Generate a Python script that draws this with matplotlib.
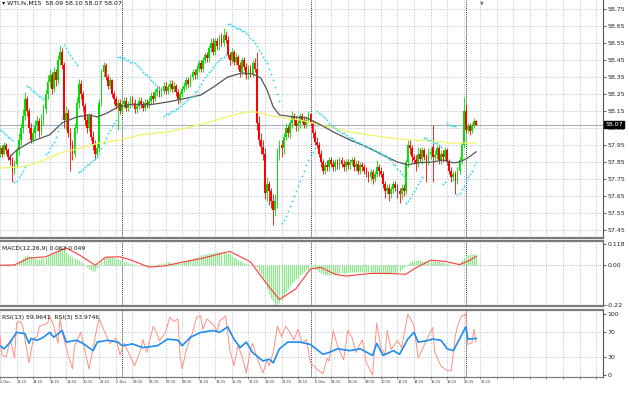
"""WTI.fs M15 chart in the MetaTrader look: candles + MA + SAR, MACD and RSI sub-windows."""
import numpy as np
import matplotlib
matplotlib.use("Agg")
import matplotlib.pyplot as plt

# ----------------------------------------------------------------- candles (one row = 8 bars = 2h)
open_ = [
    57.90, 57.93, 57.90, 57.95, 57.92, 57.88, 57.86, 57.80,
    57.84, 57.92, 57.98, 58.05, 58.12, 58.22, 58.15, 58.05,
    57.98, 58.02, 58.06, 58.09, 58.03, 58.10, 58.16, 58.25,
    58.32, 58.36, 58.28, 58.38, 58.33, 58.45, 58.50, 58.42,
    58.10, 58.14, 58.02, 57.95, 57.90, 58.05, 58.20, 58.31,
    58.25, 58.18, 58.10, 58.05, 58.12, 58.00, 57.95, 57.90,
    57.93, 58.20, 58.38, 58.42, 58.35, 58.30, 58.33, 58.25,
    58.22, 58.18, 58.20, 58.15, 58.19, 58.21, 58.17, 58.19,
    58.22, 58.20, 58.16, 58.18, 58.21, 58.19, 58.17, 58.20,
    58.19, 58.21, 58.24, 58.22, 58.26, 58.28, 58.25, 58.27,
    58.30, 58.27, 58.29, 58.31, 58.28, 58.30, 58.26, 58.22,
    58.25, 58.28, 58.30, 58.33, 58.31, 58.35, 58.38, 58.36,
    58.40, 58.43, 58.40, 58.45, 58.48, 58.46, 58.52, 58.55,
    58.50, 58.56, 58.53, 58.58, 58.55, 58.60, 58.57, 58.48,
    58.45, 58.50, 58.44, 58.47, 58.42, 58.38, 58.45, 58.41,
    58.36, 58.40, 58.37, 58.43, 58.40, 58.08, 57.98, 57.94,
    57.90, 57.67, 57.72, 57.68, 57.62, 57.57, 57.62, 57.90,
    57.95, 57.93, 58.00, 58.05, 58.02, 58.08, 58.12, 58.10,
    58.06, 58.08, 58.12, 58.10, 58.07, 58.10, 58.13, 58.08,
    58.02, 57.97, 57.95, 57.90, 57.85, 57.80, 57.83, 57.82,
    57.86, 57.84, 57.82, 57.85, 57.83, 57.86, 57.84, 57.82,
    57.85, 57.83, 57.85, 57.86, 57.82, 57.84, 57.80, 57.83,
    57.82, 57.80, 57.78, 57.76, 57.79, 57.75, 57.78, 57.82,
    57.80, 57.78, 57.72, 57.68, 57.70, 57.66, 57.69, 57.72,
    57.70, 57.68, 57.66, 57.70, 57.68, 57.85, 57.95, 57.93,
    57.88, 57.86, 57.84, 57.90, 57.87, 57.92, 57.88, 57.85,
    57.90, 57.94, 57.88, 57.89, 57.93, 57.86, 57.90, 57.88,
    57.92, 57.85, 57.80, 57.76, 57.78, 57.74, 57.80, 57.86,
    57.95, 58.15, 58.04, 58.06, 58.03, 58.06, 58.09,
]
high = [
    57.95, 57.95, 57.97, 57.96, 57.93, 57.90, 57.88, 57.86,
    57.94, 58.02, 58.08, 58.16, 58.26, 58.24, 58.17, 58.08,
    58.05, 58.10, 58.12, 58.11, 58.13, 58.19, 58.28, 58.36,
    58.40, 58.38, 58.41, 58.40, 58.48, 58.54, 58.52, 58.44,
    58.18, 58.16, 58.05, 57.98, 58.08, 58.23, 58.34, 58.33,
    58.27, 58.20, 58.13, 58.14, 58.14, 58.03, 57.98, 57.96,
    58.22, 58.40, 58.44, 58.43, 58.37, 58.35, 58.34, 58.27,
    58.24, 58.22, 58.22, 58.21, 58.23, 58.23, 58.21, 58.24,
    58.24, 58.22, 58.20, 58.23, 58.23, 58.21, 58.22, 58.22,
    58.23, 58.26, 58.26, 58.28, 58.30, 58.30, 58.29, 58.32,
    58.32, 58.31, 58.33, 58.33, 58.32, 58.31, 58.28, 58.27,
    58.30, 58.32, 58.35, 58.35, 58.37, 58.40, 58.40, 58.42,
    58.45, 58.45, 58.47, 58.50, 58.50, 58.54, 58.58, 58.58,
    58.58, 58.58, 58.60, 58.61, 58.64, 58.62, 58.59, 58.50,
    58.52, 58.51, 58.49, 58.48, 58.44, 58.47, 58.47, 58.43,
    58.42, 58.42, 58.45, 58.46, 58.50, 58.12, 58.02, 57.98,
    57.93, 57.76, 57.74, 57.70, 57.66, 57.66, 57.93, 57.98,
    57.98, 58.02, 58.08, 58.07, 58.10, 58.15, 58.14, 58.12,
    58.11, 58.14, 58.14, 58.12, 58.12, 58.15, 58.14, 58.10,
    58.04, 58.00, 57.97, 57.92, 57.87, 57.85, 57.86, 57.88,
    57.88, 57.86, 57.87, 57.87, 57.88, 57.88, 57.86, 57.87,
    57.87, 57.87, 57.88, 57.88, 57.86, 57.86, 57.85, 57.85,
    57.84, 57.82, 57.80, 57.81, 57.81, 57.80, 57.86, 57.84,
    57.82, 57.80, 57.74, 57.72, 57.72, 57.71, 57.74, 57.74,
    57.72, 57.70, 57.72, 57.72, 57.87, 57.98, 57.98, 57.95,
    57.90, 57.89, 57.94, 57.93, 57.94, 57.93, 57.90, 57.93,
    57.94, 58.07, 57.92, 57.95, 57.95, 57.92, 57.92, 57.94,
    57.93, 57.87, 57.82, 57.80, 57.80, 57.82, 57.88, 57.97,
    58.23, 58.19, 58.08, 58.08, 58.08, 58.11, 58.10,
]
low = [
    57.88, 57.88, 57.89, 57.90, 57.86, 57.83, 57.73, 57.78,
    57.82, 57.89, 57.95, 58.02, 58.10, 58.12, 58.02, 57.96,
    57.96, 57.99, 58.03, 58.00, 58.01, 58.07, 58.14, 58.22,
    58.29, 58.25, 58.26, 58.30, 58.31, 58.42, 58.40, 58.05,
    58.04, 58.00, 57.80, 57.86, 57.88, 58.02, 58.17, 58.22,
    58.15, 58.07, 58.02, 58.03, 57.98, 57.92, 57.87, 57.88,
    57.91, 58.18, 58.35, 58.33, 58.28, 58.28, 58.23, 58.19,
    58.16, 58.04, 58.13, 58.14, 58.17, 58.15, 58.15, 58.17,
    58.18, 58.14, 58.14, 58.16, 58.17, 58.15, 58.15, 58.17,
    58.17, 58.19, 58.20, 58.21, 58.24, 58.23, 58.23, 58.25,
    58.25, 58.25, 58.27, 58.26, 58.26, 58.24, 58.19, 58.20,
    58.23, 58.26, 58.28, 58.29, 58.29, 58.33, 58.34, 58.34,
    58.38, 58.38, 58.38, 58.43, 58.44, 58.44, 58.50, 58.48,
    58.48, 58.51, 58.51, 58.53, 58.53, 58.55, 58.46, 58.42,
    58.43, 58.42, 58.42, 58.40, 58.35, 58.36, 58.39, 58.34,
    58.34, 58.35, 58.35, 58.38, 58.04, 57.95, 57.90, 57.86,
    57.63, 57.62, 57.60, 57.58, 57.48, 57.53, 57.58, 57.86,
    57.88, 57.90, 57.98, 58.00, 57.99, 58.05, 58.07, 58.03,
    58.03, 58.05, 58.08, 58.05, 58.05, 58.08, 58.06, 57.99,
    57.95, 57.93, 57.88, 57.82, 57.78, 57.78, 57.80, 57.80,
    57.82, 57.80, 57.80, 57.81, 57.81, 57.82, 57.80, 57.80,
    57.81, 57.81, 57.83, 57.80, 57.80, 57.78, 57.78, 57.80,
    57.78, 57.76, 57.73, 57.74, 57.72, 57.73, 57.76, 57.77,
    57.76, 57.70, 57.64, 57.66, 57.62, 57.64, 57.67, 57.68,
    57.64, 57.61, 57.63, 57.65, 57.66, 57.82, 57.90, 57.85,
    57.84, 57.80, 57.82, 57.85, 57.84, 57.86, 57.73, 57.83,
    57.87, 57.73, 57.86, 57.87, 57.84, 57.84, 57.85, 57.86,
    57.83, 57.78, 57.73, 57.74, 57.66, 57.72, 57.78, 57.84,
    57.93, 58.02, 58.02, 58.01, 58.02, 58.05, 58.07,
]
close = [
    57.93, 57.90, 57.95, 57.92, 57.88, 57.86, 57.80, 57.84,
    57.92, 57.98, 58.05, 58.12, 58.22, 58.15, 58.05, 57.98,
    58.02, 58.06, 58.09, 58.03, 58.10, 58.16, 58.25, 58.32,
    58.36, 58.28, 58.38, 58.33, 58.45, 58.50, 58.42, 58.10,
    58.14, 58.02, 57.95, 57.90, 58.05, 58.20, 58.31, 58.25,
    58.18, 58.10, 58.05, 58.12, 58.00, 57.95, 57.90, 57.93,
    58.20, 58.38, 58.42, 58.35, 58.30, 58.33, 58.25, 58.22,
    58.18, 58.20, 58.15, 58.19, 58.21, 58.17, 58.19, 58.22,
    58.20, 58.16, 58.18, 58.21, 58.19, 58.17, 58.20, 58.19,
    58.21, 58.24, 58.22, 58.26, 58.28, 58.25, 58.27, 58.30,
    58.27, 58.29, 58.31, 58.28, 58.30, 58.26, 58.22, 58.25,
    58.28, 58.30, 58.33, 58.31, 58.35, 58.38, 58.36, 58.40,
    58.43, 58.40, 58.45, 58.48, 58.46, 58.52, 58.55, 58.50,
    58.56, 58.53, 58.58, 58.55, 58.60, 58.57, 58.48, 58.45,
    58.50, 58.44, 58.47, 58.42, 58.38, 58.45, 58.41, 58.36,
    58.40, 58.37, 58.43, 58.40, 58.08, 57.98, 57.94, 57.90,
    57.67, 57.72, 57.68, 57.62, 57.57, 57.62, 57.90, 57.95,
    57.93, 58.00, 58.05, 58.02, 58.08, 58.12, 58.10, 58.06,
    58.08, 58.12, 58.10, 58.07, 58.10, 58.13, 58.08, 58.02,
    57.97, 57.95, 57.90, 57.85, 57.80, 57.83, 57.82, 57.86,
    57.84, 57.82, 57.85, 57.83, 57.86, 57.84, 57.82, 57.85,
    57.83, 57.85, 57.86, 57.82, 57.84, 57.80, 57.83, 57.82,
    57.80, 57.78, 57.76, 57.79, 57.75, 57.78, 57.82, 57.80,
    57.78, 57.72, 57.68, 57.70, 57.66, 57.69, 57.72, 57.70,
    57.68, 57.66, 57.70, 57.68, 57.85, 57.95, 57.93, 57.88,
    57.86, 57.84, 57.90, 57.87, 57.92, 57.88, 57.85, 57.90,
    57.91, 57.88, 57.89, 57.93, 57.86, 57.90, 57.88, 57.92,
    57.85, 57.80, 57.76, 57.78, 57.74, 57.80, 57.86, 57.95,
    58.15, 58.04, 58.06, 58.03, 58.06, 58.09, 58.07,
]

# parabolic SAR, one dot per bar
sar = [
    58.04, 58.03, 58.02, 58.01, 58.00, 57.99, 57.98,
    57.73, 57.74, 57.76, 57.78, 57.80, 57.82,
    58.30, 58.29, 58.28, 58.27, 58.26, 58.25, 58.24, 58.23, 58.22,
    57.90, 57.91, 57.93, 57.95, 57.97, 58.00, 58.03, 58.07, 58.11,
    58.54, 58.52, 58.50, 58.48, 58.46, 58.44, 58.42,
    57.79, 57.80, 57.81, 57.82, 57.83, 57.84, 57.85, 57.86, 57.87, 57.88,
    57.90, 57.93, 57.96, 57.99, 58.02, 58.04, 58.06, 58.08, 58.10,
    58.47, 58.47, 58.46, 58.46, 58.45, 58.45, 58.44, 58.44, 58.43, 58.42, 58.41,
    58.40, 58.38, 58.37, 58.36, 58.35, 58.33, 58.32, 58.31, 58.30, 58.28, 58.27,
    58.12, 58.13, 58.13, 58.14, 58.15, 58.15, 58.16, 58.17, 58.18, 58.19, 58.20,
    58.21, 58.22, 58.23, 58.24, 58.26, 58.27, 58.29, 58.31, 58.33, 58.35, 58.36,
    58.38, 58.39, 58.41, 58.42, 58.44, 58.45, 58.46, 58.47, 58.48,
    58.66, 58.66, 58.65, 58.65, 58.64, 58.64, 58.63, 58.62, 58.62, 58.61, 58.60,
    58.58, 58.57, 58.55, 58.53, 58.51, 58.49, 58.47, 58.45, 58.43, 58.40, 58.37,
    58.33, 58.29, 58.25, 58.21,
    57.49, 57.51, 57.53, 57.56, 57.59, 57.62, 57.65, 57.68, 57.71, 57.74, 57.77,
    57.80, 57.83, 57.86, 57.89, 57.91, 57.93,
    58.15, 58.14, 58.13, 58.12, 58.11, 58.10, 58.08, 58.07, 58.06, 58.05, 58.04,
    58.03, 58.02, 58.02, 58.01, 58.00, 57.99, 57.99, 57.98, 57.97, 57.97, 57.96,
    57.95, 57.95, 57.94, 57.94, 57.93, 57.92, 57.92, 57.91, 57.91, 57.90, 57.89,
    57.89, 57.88, 57.87, 57.86, 57.84, 57.83, 57.81, 57.80, 57.78, 57.77,
    57.61, 57.62, 57.64, 57.66, 57.68, 57.70, 57.72, 57.74, 57.76,
    57.99, 57.99, 57.98, 57.98, 57.97, 57.96, 57.96, 57.95, 57.94,
    57.72, 57.73,
    58.08, 58.07, 58.07, 58.06, 58.06,
    57.66, 57.67, 57.69, 57.71, 57.74, 57.76, 57.78, 57.80, 57.83, 57.85,
]

# moving averages (bar index, price)
ma_gray_bar = [4, 8, 15, 24, 30, 37, 43, 47, 52, 57, 64, 72, 81, 88, 97, 103, 110, 117, 122,
               126, 129, 132, 135, 142, 148, 155, 161, 169, 177, 185, 192, 197, 201, 209,
               214, 219, 222, 226, 230]
ma_gray = [57.87, 57.92, 57.97, 58.01, 58.08, 58.115, 58.127, 58.115, 58.14, 58.174, 58.19,
           58.186, 58.203, 58.22, 58.244, 58.29, 58.35, 58.374, 58.368, 58.344, 58.274,
           58.174, 58.127, 58.115, 58.11, 58.068, 58.027, 57.98, 57.94, 57.89, 57.85,
           57.833, 57.845, 57.85, 57.862, 57.845, 57.85, 57.874, 57.91]
ma_yellow_bar = [0, 10, 19, 29, 39, 48, 58, 68, 81, 90, 100, 106, 113, 119, 124, 129, 137,
                 145, 155, 169, 185, 198, 209, 217, 230]
ma_yellow = [57.815, 57.82, 57.85, 57.903, 57.933, 57.962, 57.98, 58.01, 58.027, 58.05,
             58.08, 58.103, 58.127, 58.144, 58.144, 58.127, 58.109, 58.097, 58.068, 58.027,
             57.997, 57.98, 57.974, 57.962, 57.962]

# MACD main (histogram), one value per bar
macd_hist = [
    0.003, 0.002, 0.0, -0.002, -0.003, -0.002, 0.0, 0.005, 0.012,
    0.02, 0.03, 0.042, 0.052, 0.056, 0.05,
    0.045, 0.04, 0.038, 0.036, 0.037, 0.04, 0.042, 0.045, 0.05, 0.055, 0.06, 0.068,
    0.078, 0.088, 0.095,
    0.096, 0.088, 0.075, 0.06, 0.05, 0.045, 0.04, 0.035, 0.028, 0.02, 0.01,
    0.0, -0.01, -0.02, -0.028, -0.034, -0.03, -0.015, 0.005,
    0.025, 0.04, 0.048, 0.05, 0.048, 0.045, 0.042, 0.038, 0.033, 0.028,
    0.024, 0.02, 0.016, 0.013, 0.01, 0.008, 0.005, 0.003, 0.001, -0.001,
    -0.003, -0.004, -0.005, -0.004, -0.002, 0.0, 0.003, 0.006, 0.009, 0.012,
    0.014, 0.016, 0.017, 0.016, 0.015, 0.014, 0.012, 0.011, 0.012, 0.015,
    0.02, 0.025, 0.03, 0.034, 0.038, 0.043, 0.048, 0.052, 0.055, 0.058, 0.061, 0.063,
    0.066, 0.068, 0.07, 0.072, 0.073, 0.072, 0.073, 0.072, 0.07, 0.066,
    0.06, 0.052, 0.045, 0.038, 0.032, 0.026, 0.02, 0.015, 0.01, 0.006, 0.003,
    0.0, -0.003, -0.01, -0.03, -0.05, -0.07,
    -0.1, -0.13, -0.16, -0.18, -0.2, -0.215, -0.22, -0.21, -0.19,
    -0.17, -0.15, -0.13, -0.115, -0.1, -0.088, -0.076, -0.065, -0.055, -0.045,
    -0.036, -0.028, -0.02, -0.015,
    -0.015, -0.02, -0.028, -0.036, -0.044, -0.05, -0.055, -0.056, -0.055, -0.052,
    -0.05, -0.048, -0.046, -0.044, -0.043, -0.042, -0.04, -0.039, -0.038, -0.037,
    -0.036, -0.036, -0.035, -0.035, -0.036, -0.037, -0.036, -0.035, -0.036, -0.038,
    -0.04, -0.042, -0.043, -0.044, -0.045, -0.046, -0.046, -0.045, -0.044, -0.042,
    -0.04, -0.036, -0.03, -0.022, -0.012, -0.002, 0.008, 0.016, 0.022, 0.026,
    0.028, 0.028, 0.027, 0.026, 0.026, 0.025, 0.026, 0.027, 0.026, 0.025, 0.024,
    0.022, 0.02, 0.017,
    0.013, 0.009, 0.005, 0.003, 0.002, 0.003, 0.006,
    0.015, 0.028, 0.04, 0.05, 0.056, 0.06, 0.062, 0.064, 0.063,
]
macd_sig_bar = [0, 7, 14, 22, 32, 39, 46, 51, 58, 63, 72, 80, 87, 97, 111, 121, 128, 135,
                143, 150, 155, 162, 167, 179, 188, 196, 200, 208, 215, 222, 227, 230]
macd_sig = [0.0, 0.002, 0.04, 0.047, 0.096, 0.053, 0.0, 0.045, 0.047, 0.03, -0.01, -0.003,
            0.015, 0.037, 0.077, 0.019, -0.09, -0.19, -0.13, -0.02, -0.012, -0.05, -0.06,
            -0.045, -0.045, -0.05, -0.02, 0.028, 0.022, 0.004, 0.028, 0.049]

# RSI lines (bar index, value)
rsi13_bar = [0, 2, 5, 8, 12, 14, 15, 18, 21, 24, 26, 30, 32, 37, 40, 45, 47, 52, 57, 59, 64,
             69, 76, 81, 86, 88, 92, 97, 103, 106, 110, 113, 116, 119, 122, 127, 130, 132,
             135, 139, 145, 150, 156, 159, 163, 169, 174, 180, 182, 185, 190, 193, 197, 200,
             202, 206, 209, 213, 216, 219, 222, 225, 226, 230]
rsi13 = [48, 43, 54, 70, 68, 52, 60, 57, 62, 70, 62, 73, 54, 57, 52, 40, 54, 57, 54, 48, 51,
         45, 48, 59, 57, 48, 62, 70, 73, 70, 79, 59, 45, 54, 37, 23, 26, 20, 43, 54, 54, 50,
         34, 37, 43, 40, 43, 32, 52, 32, 40, 34, 59, 70, 54, 56, 59, 57, 43, 40, 59, 79, 59, 60]
rsi3_bar = [0, 1, 3, 5, 7, 8, 10, 11, 13, 14, 16, 18, 19, 23, 24, 26, 28, 29, 30, 33, 35, 36,
            39, 41, 43, 45, 47, 48, 51, 53, 56, 58, 60, 63, 65, 68, 69, 71, 72, 74, 76, 77, 80,
            82, 84, 86, 87, 88, 90, 93, 95, 97, 98, 100, 103, 105, 106, 109, 111, 113, 115,
            117, 119, 121, 122, 124, 126, 127, 129, 130, 132, 134, 136, 138, 140, 142, 144,
            146, 148, 150, 153, 156, 158, 159, 161, 163, 166, 168, 170, 172, 175, 177, 180,
            182, 184, 186, 187, 189, 192, 194, 197, 199, 200, 202, 204, 206, 209, 210, 213,
            216, 218, 220, 221, 223, 225, 226, 228, 229, 230]
rsi3 = [65, 32, 30, 58, 28, 85, 88, 80, 40, 20, 58, 63, 80, 85, 97, 80, 52, 92, 70, 32, 10, 48,
        70, 40, 10, 45, 80, 92, 67, 52, 60, 33, 52, 30, 15, 42, 58, 37, 52, 80, 67, 56, 70,
        95, 88, 92, 30, 10, 42, 70, 95, 97, 75, 92, 83, 72, 88, 97, 42, 15, 48, 30, 3, 42,
        52, 30, 12, 3, 25, 15, 37, 80, 63, 80, 70, 58, 75, 52, 58, 20, 10, 2, 27, 23, 73,
        48, 25, 73, 62, 37, 58, 20, 0, 85, 45, 33, 73, 42, 57, 45, 100, 88, 80, 28, 42, 57,
        78, 38, 15, 7, 7, 65, 80, 97, 100, 50, 53, 75, 54]

# axis furniture
price_ticks = [57.45, 57.55, 57.65, 57.75, 57.85, 57.95, 58.05, 58.15, 58.25, 58.35, 58.45,
               58.55, 58.65, 58.75]
macd_ticks = [-0.22, 0.0, 0.118]
macd_tick_labels = ["-0.22", "0.00", "0.118"]
rsi_ticks = [0, 30, 70, 100]
time_labels = ["4 Dec", "12:15", "14:15", "16:15", "18:15", "20:15", "22:15", "5 Dec",
               "03:15", "05:15", "07:15", "09:15", "11:15", "13:15", "15:15", "17:15",
               "19:15", "21:15", "23:15", "6 Dec", "04:15", "06:15", "08:15", "10:15",
               "12:15", "14:15", "16:15", "18:15", "20:15", "22:15"]
day_separators = [59, 150, 225]
last_price = 58.07

W, H = 629, 396
X_RIGHT = 291.3          # bar index at the price-scale edge
GRID = "#b0b9c6"
BULL, BEAR = "#00e000", "#ff0000"


def frame(ax, top, bottom):
    ax.set_xlim(0, X_RIGHT)
    ax.set_facecolor("white")
    ax.set_xticks(np.arange(0, 292, 8))
    ax.xaxis.grid(True, color=GRID, ls=(0, (2, 2)), lw=0.5)
    ax.tick_params(axis="x", length=0, labelbottom=False)
    ax.tick_params(axis="y", left=False, labelleft=False, right=True, labelright=True,
                   length=2, width=0.5, labelsize=4.5, pad=1, colors="#222222")
    ax.spines["left"].set_visible(False)
    ax.spines["right"].set_color("#555555")
    ax.spines["right"].set_linewidth(0.8)
    for side, on in (("top", top), ("bottom", bottom)):
        ax.spines[side].set_visible(on)
        ax.spines[side].set_color("#7a7a7a")
        ax.spines[side].set_linewidth(1.6)
    for b in day_separators:
        ax.axvline(b, color="#3a3a3a", ls=(0, (1, 1)), lw=0.7, zorder=1)


fig = plt.figure(figsize=(W / 100, H / 100), dpi=100)
fig.patch.set_facecolor("white")
right = 603 / W
ax1 = fig.add_axes([0, 1 - 238 / H, right, 238 / H])
ax2 = fig.add_axes([0, 1 - 306 / H, right, 65 / H])
ax3 = fig.add_axes([0, 1 - 377 / H, right, 67 / H])

# ---------------------------------------------------------------- main price window
frame(ax1, False, True)
ax1.set_ylim(57.403, 58.803)
ax1.set_yticks(price_ticks)
ax1.set_yticklabels([f"{t:.2f}" for t in price_ticks])
ax1.yaxis.grid(True, color=GRID, ls=(0, (2, 2)), lw=0.5)
ax1.set_axisbelow(True)

for i, (o, h, l, c) in enumerate(zip(open_, high, low, close)):
    col = BULL if c >= o else BEAR
    ax1.vlines(i, l, h, color=col, lw=0.6, zorder=3)
    ax1.bar(i, max(abs(c - o), 0.004), bottom=min(o, c), width=0.85, color=col,
            lw=0, zorder=3)

ax1.plot(ma_yellow_bar, ma_yellow, color="#f2f266", lw=0.9, zorder=4)
ax1.plot(ma_gray_bar, ma_gray, color="#555555", lw=0.9, zorder=4)
ax1.plot(np.arange(len(sar)), sar, ls="none", marker="o", ms=1.4, mew=0,
         color="#3fd8e0", zorder=4)
ax1.axhline(last_price, color="#a9b1ba", lw=0.8, zorder=2)
ax1.text(1.004, last_price, f"{last_price:.2f}", transform=ax1.get_yaxis_transform(),
         ha="left", va="center", fontsize=4.5, color="white", zorder=10, clip_on=False,
         bbox=dict(boxstyle="square,pad=0.2", fc="black", ec="black"))
ax1.text(0.004, 0.995, "▾ WTI.fs,M15  58.09 58.10 58.07 58.07", transform=ax1.transAxes,
         ha="left", va="top", fontsize=4.5, color="#111111")

# ---------------------------------------------------------------- MACD window
frame(ax2, True, True)
ax2.set_ylim(-0.2255, 0.1346)
ax2.set_yticks(macd_ticks)
ax2.set_yticklabels(macd_tick_labels)
ax2.axhline(0, color="#9aa3ae", ls=(0, (1, 1.5)), lw=0.6, zorder=1)
ax2.vlines(np.arange(len(macd_hist)), 0, macd_hist, color="#8ee88e", lw=0.9, zorder=2)
ax2.plot(macd_sig_bar, macd_sig, color="#ff3b3b", lw=0.8, zorder=3)
ax2.text(0.004, 0.93, "MACD(12,26,9) 0.063 0.049", transform=ax2.transAxes,
         ha="left", va="top", fontsize=4.3, color="#111111")

# ---------------------------------------------------------------- RSI window
frame(ax3, True, True)
ax3.spines["bottom"].set_linestyle((0, (1, 1)))
ax3.spines["bottom"].set_linewidth(0.9)
ax3.set_ylim(-3.3, 106.7)
ax3.set_yticks(rsi_ticks)
ax3.set_yticklabels([str(t) for t in rsi_ticks])
for lvl in (30, 70):
    ax3.axhline(lvl, color=GRID, ls=(0, (2, 2)), lw=0.5, zorder=1)
ax3.plot(rsi3_bar, rsi3, color="#ff8f80", lw=0.7, zorder=2)
ax3.plot(rsi13_bar, rsi13, color="#1e8cf0", lw=1.2, zorder=3)
ax3.text(0.004, 0.93, "RSI(13) 59.9641  RSI(3) 53.9746", transform=ax3.transAxes,
         ha="left", va="top", fontsize=4.3, color="#111111")

ax3.tick_params(axis="x", labelbottom=True, length=1.5, width=0.4, labelsize=2.6, pad=1,
                colors="#333333")
labels = time_labels + [""] * (len(ax3.get_xticks()) - len(time_labels))
ax3.set_xticklabels(labels)
for t in ax3.get_xticklabels():
    t.set_ha("left")

# chart-shift marker on the top edge
fig.text(482 / W, 1.0, "▼", ha="center", va="top", fontsize=3.5, color="#777777")

fig.savefig("out.png", dpi=100, facecolor="white")
